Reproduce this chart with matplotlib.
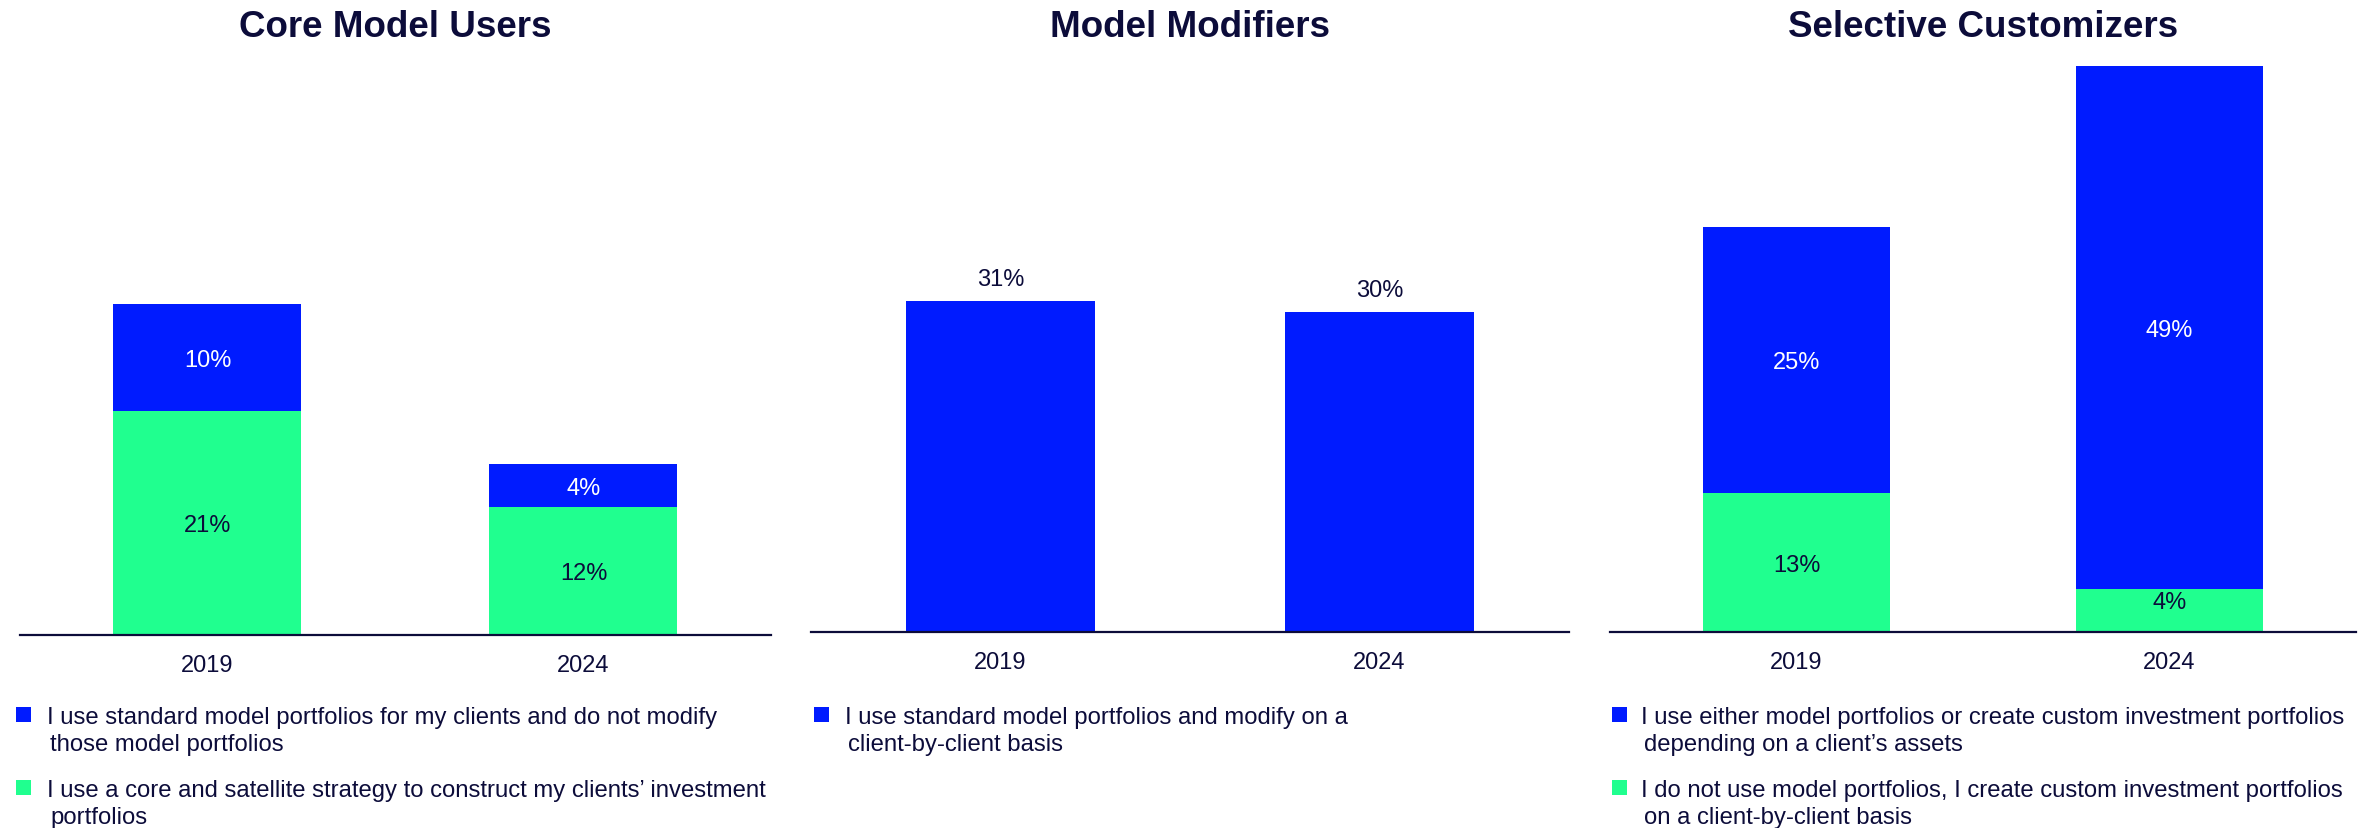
import matplotlib
matplotlib.use("Agg")
import matplotlib.pyplot as plt
from matplotlib.patches import Rectangle

plt.rcParams['font.family'] = ['Liberation Sans', 'DejaVu Sans']

# ---- data -------------------------------------------------------------
years = ["2019", "2024"]
panel_titles = ["Core Model Users", "Model Modifiers", "Selective Customizers"]

core_no_modify = [10, 4]          # blue, stacked on top
core_satellite = [21, 12]         # green, bottom
modify_by_client = [31, 30]       # blue, single series
custom_either = [25, 49]          # blue, stacked on top
custom_only = [13, 4]             # green, bottom

legend_core = [
    "I use standard model portfolios for my clients and do not modify\nthose model portfolios",
    "I use a core and satellite strategy to construct my clients\u2019 investment\nportfolios",
]
legend_modifiers = [
    "I use standard model portfolios and modify on a\nclient-by-client basis",
]
legend_custom = [
    "I use either model portfolios or create custom investment portfolios\ndepending on a client\u2019s assets",
    "I do not use model portfolios, I create custom investment portfolios\non a client-by-client basis",
]

# ---- style ------------------------------------------------------------
BLUE = "#001BFF"
GREEN = "#20FF8F"
NAVY = "#0C0C3A"

W, H, DPI = 2374, 829, 100
fig = plt.figure(figsize=(W / DPI, H / DPI), dpi=DPI)
fig.patch.set_facecolor("white")

PX_PER_UNIT = 10.67
YMAX = 56


def make_axes(left, right, baseline):
    height = YMAX * PX_PER_UNIT
    ax = fig.add_axes([left / W, (H - baseline) / H, (right - left) / W, height / H])
    ax.set_xlim(-0.5, 1.5)
    ax.set_ylim(0, YMAX)
    for side in ("top", "right", "left"):
        ax.spines[side].set_visible(False)
    ax.spines["bottom"].set_color(NAVY)
    ax.spines["bottom"].set_linewidth(1.6)
    ax.set_yticks([])
    ax.set_xticks(range(len(years)))
    ax.set_xticklabels(years)
    ax.tick_params(axis="x", length=0, pad=13.5, labelsize=17, labelcolor=NAVY)
    ax.set_facecolor("none")
    return ax


def inside_labels(ax, values, bottoms, color, offsets=None):
    for i, (v, b) in enumerate(zip(values, bottoms)):
        dy = offsets[i] if offsets else 0
        ax.annotate(f"{v}%", (i, b + v / 2), xytext=(0, dy), textcoords="offset points",
                    ha="center", va="center_baseline", fontsize=17, color=color)


def legend(x_marker, x_text, colors, labels, first_baseline=724):
    y = first_baseline
    for color, label in zip(colors, labels):
        fig.add_artist(Rectangle((x_marker / W, (H - (y - 1)) / H), 15 / W, 15 / H,
                                 transform=fig.transFigure, facecolor=color,
                                 edgecolor="none"))
        for k, line in enumerate(label.split("\n")):
            fig.text((x_text + (3 if k else 0)) / W, (H - y) / H, line,
                     ha="left", va="baseline", fontsize=17.2, color=NAVY)
            y += 27
        y += 19


x = list(range(len(years)))
width = 0.5

# ---- Core Model Users -------------------------------------------------
ax1 = make_axes(19.5, 771.5, 636)
ax1.bar(x, core_satellite, width, color=GREEN)
ax1.bar(x, core_no_modify, width, bottom=core_satellite, color=BLUE)
inside_labels(ax1, core_satellite, [0, 0], NAVY)
inside_labels(ax1, core_no_modify, core_satellite, "white")

# ---- Model Modifiers --------------------------------------------------
ax2 = make_axes(811, 1569, 633)
ax2.bar(x, modify_by_client, width, color=BLUE)
for i, v in enumerate(modify_by_client):
    ax2.annotate(f"{v}%", (i, v), xytext=(0, 8), textcoords="offset points",
                 ha="center", va="bottom", fontsize=17, color=NAVY)

# ---- Selective Customizers --------------------------------------------
ax3 = make_axes(1610, 2356, 633)
ax3.bar(x, custom_only, width, color=GREEN)
ax3.bar(x, custom_either, width, bottom=custom_only, color=BLUE)
inside_labels(ax3, custom_only, [0, 0], NAVY, offsets=[0, 8])
inside_labels(ax3, custom_either, custom_only, "white")

# ---- titles -----------------------------------------------------------
for ax, title in zip((ax1, ax2, ax3), panel_titles):
    pos = ax.get_position()
    fig.text(pos.x0 + pos.width / 2, (H - 37) / H, title, ha="center", va="baseline",
             fontsize=26.5, fontweight="bold", color=NAVY)

# ---- legends ----------------------------------------------------------
legend(16, 47, [BLUE, GREEN], legend_core)
legend(814, 845, [BLUE], legend_modifiers)
legend(1612, 1641, [BLUE, GREEN], legend_custom)

fig.savefig("out.png", dpi=DPI, facecolor="white")
